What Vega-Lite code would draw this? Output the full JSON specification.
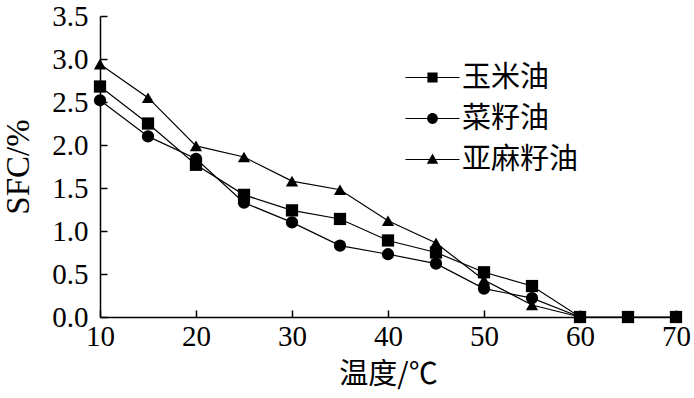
{
  "$schema": "https://vega.github.io/schema/vega-lite/v6.json",
  "width": 576,
  "height": 301,
  "autosize": {"type": "none"},
  "padding": {"left": 100, "top": 16, "right": 18, "bottom": 81},
  "background": "white",
  "config": {"view": {"stroke": null}, "font": "Liberation Serif"},
  "data": {
    "values": [
      {"oil": "菜籽油", "t": 10, "sfc": 2.52},
      {"oil": "菜籽油", "t": 15, "sfc": 2.10},
      {"oil": "菜籽油", "t": 20, "sfc": 1.84},
      {"oil": "菜籽油", "t": 25, "sfc": 1.33},
      {"oil": "菜籽油", "t": 30, "sfc": 1.10},
      {"oil": "菜籽油", "t": 35, "sfc": 0.83},
      {"oil": "菜籽油", "t": 40, "sfc": 0.73},
      {"oil": "菜籽油", "t": 45, "sfc": 0.62},
      {"oil": "菜籽油", "t": 50, "sfc": 0.33},
      {"oil": "菜籽油", "t": 55, "sfc": 0.22},
      {"oil": "菜籽油", "t": 60, "sfc": 0},
      {"oil": "亚麻籽油", "t": 10, "sfc": 2.94},
      {"oil": "亚麻籽油", "t": 15, "sfc": 2.55},
      {"oil": "亚麻籽油", "t": 20, "sfc": 1.99},
      {"oil": "亚麻籽油", "t": 25, "sfc": 1.86},
      {"oil": "亚麻籽油", "t": 30, "sfc": 1.58},
      {"oil": "亚麻籽油", "t": 35, "sfc": 1.48},
      {"oil": "亚麻籽油", "t": 40, "sfc": 1.12},
      {"oil": "亚麻籽油", "t": 45, "sfc": 0.86},
      {"oil": "亚麻籽油", "t": 50, "sfc": 0.43},
      {"oil": "亚麻籽油", "t": 55, "sfc": 0.14},
      {"oil": "亚麻籽油", "t": 60, "sfc": 0},
      {"oil": "玉米油", "t": 10, "sfc": 2.68},
      {"oil": "玉米油", "t": 15, "sfc": 2.25},
      {"oil": "玉米油", "t": 20, "sfc": 1.77},
      {"oil": "玉米油", "t": 25, "sfc": 1.42},
      {"oil": "玉米油", "t": 30, "sfc": 1.24},
      {"oil": "玉米油", "t": 35, "sfc": 1.14},
      {"oil": "玉米油", "t": 40, "sfc": 0.89},
      {"oil": "玉米油", "t": 45, "sfc": 0.75},
      {"oil": "玉米油", "t": 50, "sfc": 0.52},
      {"oil": "玉米油", "t": 55, "sfc": 0.36},
      {"oil": "玉米油", "t": 60, "sfc": 0},
      {"oil": "玉米油", "t": 65, "sfc": 0},
      {"oil": "玉米油", "t": 70, "sfc": 0}
    ]
  },
  "encoding": {
    "x": {
      "field": "t", "type": "quantitative",
      "scale": {"domain": [10, 70], "nice": false, "zero": false},
      "axis": {
        "title": "温度/℃", "titleFont": "Noto Sans CJK SC", "titleFontSize": 29, "titleFontWeight": "normal", "titleColor": "black", "titlePadding": 9,
        "values": [10, 20, 30, 40, 50, 60, 70], "format": "d",
        "labelFont": "Liberation Serif", "labelFontSize": 29, "labelColor": "black", "labelPadding": 12,
        "tickSize": -7, "tickColor": "black", "tickWidth": 1.5,
        "domainColor": "black", "domainWidth": 1.5, "grid": false, "labelFlush": false
      }
    },
    "y": {
      "field": "sfc", "type": "quantitative",
      "scale": {"domain": [0, 3.5], "nice": false},
      "axis": {
        "title": "SFC/%", "titleFont": "Liberation Serif", "titleFontSize": 33, "titleFontWeight": "normal", "titleColor": "black", "titlePadding": 16,
        "values": [0, 0.5, 1, 1.5, 2, 2.5, 3, 3.5], "format": ".1f",
        "labelFont": "Liberation Serif", "labelFontSize": 29, "labelColor": "black", "labelPadding": 19,
        "tickSize": -7, "tickColor": "black", "tickWidth": 1.5,
        "domainColor": "black", "domainWidth": 1.5, "grid": false, "labelFlush": false
      }
    }
  },
  "layer": [
    {
      "mark": {"type": "line", "color": "black", "strokeWidth": 1.2},
      "encoding": {"detail": {"field": "oil"}}
    },
    {
      "mark": {"type": "point", "filled": true, "color": "black", "size": 150, "opacity": 1},
      "encoding": {
        "shape": {
          "field": "oil", "type": "nominal",
          "scale": {"domain": ["玉米油", "菜籽油", "亚麻籽油"], "range": ["square", "circle", "triangle-up"]},
          "legend": null
        }
      }
    },
    {
      "mark": {"type": "point", "filled": true, "color": "black", "opacity": 0},
      "encoding": {
        "shape": {
          "field": "oil", "type": "nominal",
          "scale": {
            "domain": ["玉米油", "菜籽油", "亚麻籽油"],
            "range": [
              "M-4.5,-0.1H4.5V0.1H-4.5ZM-0.85,-0.85H0.85V0.85H-0.85Z",
              "M-4.5,-0.1H4.5V0.1H-4.5ZM0.9,0A0.9,0.9 0 1,1 -0.9,0A0.9,0.9 0 1,1 0.9,0Z",
              "M-4.5,-0.1H4.5V0.1H-4.5ZM0,-1L0.95,0.7H-0.95Z"
            ]
          },
          "legend": {
            "title": null, "orient": "none", "legendX": 318, "legendY": 47,
            "symbolSize": 144, "labelFont": "Noto Sans CJK SC", "labelFontSize": 29, "labelColor": "black",
            "labelOffset": 15, "rowPadding": 11, "symbolOpacity": 1,
            "symbolFillColor": "black", "symbolStrokeWidth": 0
          }
        }
      }
    }
  ],
  "resolve": {"scale": {"shape": "independent"}}
}
